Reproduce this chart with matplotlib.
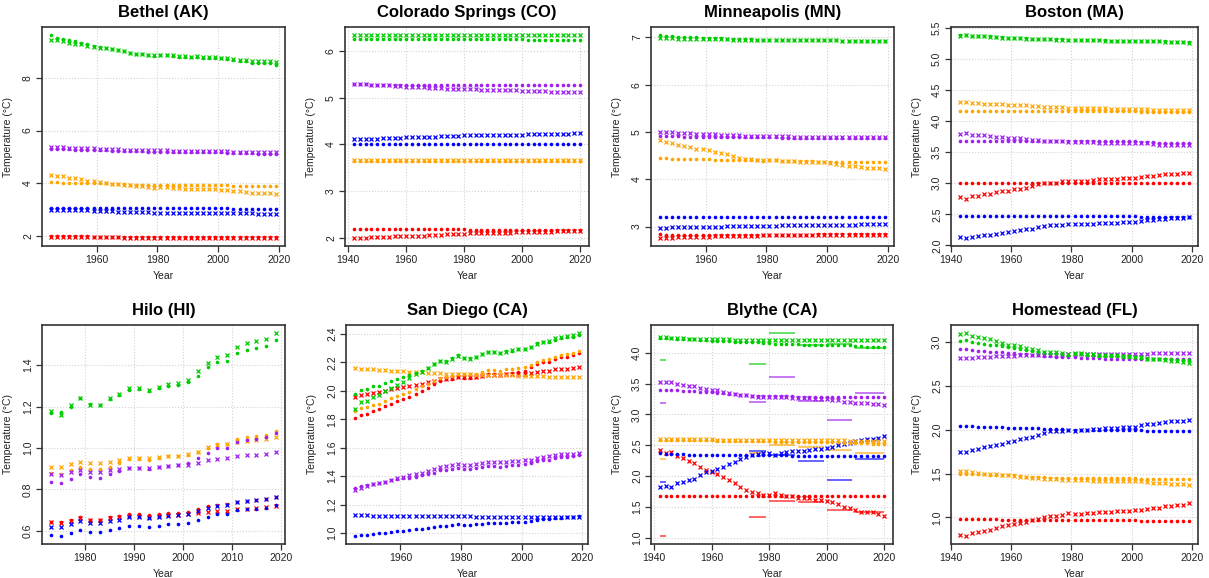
import matplotlib
matplotlib.use('Agg')
import matplotlib.pyplot as plt
from matplotlib.ticker import FixedLocator, FormatStrFormatter

plt.rcParams['font.family'] = ['Liberation Sans', 'DejaVu Sans']

RED = '#FF0000'
BLUE = '#0000FF'
ORANGE = '#FFA500'
PURPLE = '#A020F0'
GREEN = '#00CD00'

W, H = 1209, 578

# ---------------- Bethel (AK) ----------------
bethel_years = list(range(1945, 2020, 2))
bethel_red_dot = [2.00, 2.00, 2.00, 2.00, 1.99, 1.99, 1.99, 1.98, 1.98, 1.98,
                  1.98, 1.98, 1.97, 1.97, 1.97, 1.97, 1.97, 1.96, 1.96, 1.96,
                  1.96, 1.96, 1.96, 1.96, 1.96, 1.96, 1.96, 1.96, 1.96, 1.96,
                  1.96, 1.95, 1.95, 1.95, 1.95, 1.95, 1.95, 1.95]
bethel_red_x = [1.96, 1.96, 1.96, 1.96, 1.96, 1.95, 1.95, 1.95, 1.95, 1.95,
                1.95, 1.95, 1.94, 1.94, 1.94, 1.94, 1.94, 1.94, 1.94, 1.94,
                1.94, 1.94, 1.94, 1.94, 1.94, 1.94, 1.94, 1.94, 1.94, 1.94,
                1.93, 1.93, 1.93, 1.93, 1.93, 1.93, 1.93, 1.93]
bethel_blue_dot = [3.07, 3.07, 3.07, 3.07, 3.07, 3.06, 3.06, 3.06, 3.06, 3.06,
                   3.06, 3.06, 3.06, 3.06, 3.06, 3.05, 3.05, 3.05, 3.05, 3.05,
                   3.05, 3.05, 3.05, 3.05, 3.05, 3.05, 3.05, 3.05, 3.05, 3.05,
                   3.04, 3.04, 3.04, 3.04, 3.04, 3.04, 3.04, 3.04]
bethel_blue_x = [3.00, 3.00, 3.00, 2.99, 2.99, 2.98, 2.97, 2.96, 2.95, 2.95,
                 2.94, 2.93, 2.92, 2.91, 2.90, 2.90, 2.90, 2.89, 2.89, 2.89,
                 2.89, 2.88, 2.88, 2.88, 2.88, 2.88, 2.87, 2.87, 2.87, 2.87,
                 2.86, 2.86, 2.86, 2.86, 2.85, 2.85, 2.85, 2.85]
bethel_orange_dot = [4.04, 4.04, 4.03, 4.03, 4.03, 4.02, 4.01, 4.00, 4.00, 4.00,
                     3.99, 3.98, 3.96, 3.95, 3.93, 3.93, 3.93, 3.92, 3.93, 3.93,
                     3.93, 3.92, 3.92, 3.92, 3.92, 3.92, 3.92, 3.92, 3.92, 3.92,
                     3.91, 3.91, 3.91, 3.91, 3.91, 3.91, 3.91, 3.90]
bethel_orange_x = [4.33, 4.28, 4.27, 4.22, 4.20, 4.15, 4.10, 4.07, 4.05, 4.02,
                   3.99, 3.97, 3.94, 3.92, 3.88, 3.88, 3.86, 3.84, 3.86, 3.86,
                   3.84, 3.82, 3.80, 3.79, 3.79, 3.78, 3.77, 3.77, 3.76, 3.73,
                   3.70, 3.69, 3.68, 3.65, 3.64, 3.63, 3.63, 3.60]
bethel_purple_dot = [5.31, 5.30, 5.30, 5.29, 5.28, 5.28, 5.27, 5.26, 5.26, 5.25,
                     5.24, 5.24, 5.23, 5.22, 5.21, 5.21, 5.20, 5.20, 5.20, 5.20,
                     5.19, 5.19, 5.18, 5.18, 5.18, 5.17, 5.17, 5.17, 5.17, 5.16,
                     5.15, 5.15, 5.14, 5.14, 5.13, 5.13, 5.13, 5.12]
bethel_purple_x = [5.37, 5.36, 5.36, 5.35, 5.34, 5.34, 5.33, 5.32, 5.31, 5.30,
                   5.30, 5.29, 5.28, 5.27, 5.27, 5.26, 5.26, 5.25, 5.25, 5.25,
                   5.24, 5.24, 5.23, 5.23, 5.23, 5.22, 5.22, 5.22, 5.22, 5.21,
                   5.20, 5.20, 5.19, 5.19, 5.18, 5.18, 5.18, 5.17]
bethel_green_dot = [9.62, 9.50, 9.48, 9.42, 9.38, 9.32, 9.27, 9.22, 9.18, 9.13,
                    9.08, 9.05, 9.00, 8.96, 8.90, 8.90, 8.88, 8.83, 8.86, 8.86,
                    8.83, 8.80, 8.78, 8.78, 8.79, 8.77, 8.75, 8.75, 8.74, 8.70,
                    8.66, 8.64, 8.63, 8.58, 8.56, 8.55, 8.55, 8.50]
bethel_green_x = [9.45, 9.42, 9.38, 9.33, 9.30, 9.27, 9.22, 9.18, 9.15, 9.12,
                  9.08, 9.05, 9.00, 8.95, 8.92, 8.90, 8.88, 8.85, 8.86, 8.87,
                  8.85, 8.83, 8.82, 8.80, 8.81, 8.80, 8.79, 8.78, 8.77, 8.74,
                  8.70, 8.68, 8.68, 8.65, 8.64, 8.63, 8.62, 8.60]

# ---------------- Colorado Springs (CO) ----------------
colo_years = list(range(1942, 2021, 2))
colo_red_dot = [2.18, 2.18, 2.18, 2.18, 2.18, 2.18, 2.18, 2.18, 2.18, 2.18,
                2.18, 2.18, 2.18, 2.18, 2.18, 2.18, 2.18, 2.18, 2.18, 2.18,
                2.17, 2.17, 2.17, 2.17, 2.17, 2.17, 2.17, 2.17, 2.17, 2.17,
                2.17, 2.17, 2.17, 2.17, 2.17, 2.16, 2.16, 2.16, 2.16, 2.16]
colo_red_x = [2.00, 2.00, 2.00, 2.01, 2.01, 2.02, 2.02, 2.03, 2.03, 2.04,
              2.04, 2.05, 2.05, 2.06, 2.07, 2.07, 2.08, 2.08, 2.09, 2.09,
              2.10, 2.10, 2.10, 2.10, 2.11, 2.11, 2.11, 2.11, 2.12, 2.12,
              2.12, 2.12, 2.13, 2.13, 2.13, 2.14, 2.14, 2.14, 2.14, 2.15]
colo_blue_dot = [4.00, 4.00, 4.00, 4.00, 4.00, 4.00, 4.00, 4.00, 4.00, 4.00,
                 4.00, 4.00, 4.00, 4.00, 4.00, 4.00, 4.00, 4.00, 4.00, 4.00,
                 4.00, 4.00, 4.00, 4.00, 4.00, 4.00, 4.00, 4.00, 4.00, 4.00,
                 4.00, 4.00, 4.00, 4.00, 4.00, 4.00, 4.00, 4.00, 4.00, 4.00]
colo_blue_x = [4.11, 4.11, 4.11, 4.12, 4.12, 4.13, 4.13, 4.14, 4.14, 4.15,
               4.15, 4.16, 4.16, 4.17, 4.17, 4.18, 4.18, 4.19, 4.19, 4.20,
               4.20, 4.20, 4.20, 4.20, 4.21, 4.21, 4.21, 4.21, 4.21, 4.21,
               4.22, 4.22, 4.22, 4.22, 4.23, 4.23, 4.23, 4.23, 4.24, 4.24]
colo_orange_dot = [3.64, 3.64, 3.64, 3.64, 3.64, 3.64, 3.64, 3.64, 3.64, 3.64,
                   3.64, 3.64, 3.64, 3.64, 3.64, 3.64, 3.64, 3.64, 3.64, 3.64,
                   3.64, 3.64, 3.64, 3.64, 3.64, 3.64, 3.64, 3.64, 3.64, 3.64,
                   3.64, 3.64, 3.64, 3.64, 3.64, 3.64, 3.64, 3.64, 3.64, 3.64]
colo_orange_x = [3.66, 3.66, 3.66, 3.66, 3.66, 3.66, 3.66, 3.66, 3.66, 3.66,
                 3.66, 3.66, 3.66, 3.66, 3.66, 3.66, 3.66, 3.66, 3.66, 3.66,
                 3.66, 3.66, 3.66, 3.66, 3.66, 3.66, 3.66, 3.66, 3.66, 3.66,
                 3.66, 3.66, 3.66, 3.66, 3.66, 3.66, 3.66, 3.66, 3.66, 3.66]
colo_purple_dot = [5.29, 5.29, 5.29, 5.28, 5.28, 5.28, 5.28, 5.28, 5.28, 5.28,
                   5.27, 5.27, 5.27, 5.27, 5.27, 5.27, 5.27, 5.27, 5.27, 5.27,
                   5.27, 5.27, 5.27, 5.27, 5.27, 5.27, 5.27, 5.27, 5.27, 5.27,
                   5.27, 5.27, 5.27, 5.27, 5.27, 5.27, 5.27, 5.27, 5.27, 5.27]
colo_purple_x = [5.30, 5.29, 5.29, 5.28, 5.28, 5.27, 5.27, 5.26, 5.25, 5.24,
                 5.24, 5.23, 5.22, 5.21, 5.20, 5.20, 5.19, 5.19, 5.18, 5.18,
                 5.18, 5.18, 5.17, 5.17, 5.17, 5.17, 5.16, 5.16, 5.16, 5.15,
                 5.15, 5.15, 5.14, 5.14, 5.13, 5.13, 5.13, 5.13, 5.12, 5.12]
colo_green_dot = [6.26, 6.26, 6.26, 6.26, 6.26, 6.26, 6.26, 6.26, 6.26, 6.26,
                  6.25, 6.25, 6.25, 6.25, 6.25, 6.25, 6.25, 6.25, 6.25, 6.25,
                  6.25, 6.25, 6.25, 6.25, 6.25, 6.25, 6.25, 6.25, 6.25, 6.25,
                  6.24, 6.24, 6.24, 6.24, 6.24, 6.24, 6.24, 6.24, 6.24, 6.24]
colo_green_x = [6.34, 6.34, 6.34, 6.34, 6.34, 6.34, 6.34, 6.34, 6.34, 6.34,
                6.34, 6.34, 6.34, 6.34, 6.34, 6.34, 6.34, 6.34, 6.34, 6.34,
                6.34, 6.34, 6.34, 6.34, 6.34, 6.34, 6.34, 6.34, 6.34, 6.34,
                6.34, 6.34, 6.34, 6.34, 6.34, 6.34, 6.34, 6.34, 6.34, 6.34]

# ---------------- Minneapolis (MN) ----------------
minn_years = list(range(1945, 2020, 2))
minn_red_dot = [2.84, 2.83, 2.83, 2.83, 2.83, 2.83, 2.83, 2.83, 2.83, 2.83,
                2.83, 2.83, 2.83, 2.83, 2.83, 2.83, 2.83, 2.83, 2.83, 2.83,
                2.83, 2.83, 2.83, 2.83, 2.83, 2.83, 2.84, 2.84, 2.84, 2.84,
                2.84, 2.84, 2.84, 2.84, 2.84, 2.84, 2.84, 2.84]
minn_red_x = [2.76, 2.76, 2.76, 2.77, 2.77, 2.77, 2.78, 2.78, 2.78, 2.79,
              2.79, 2.80, 2.80, 2.81, 2.81, 2.81, 2.81, 2.82, 2.82, 2.82,
              2.82, 2.82, 2.82, 2.82, 2.82, 2.82, 2.82, 2.82, 2.82, 2.82,
              2.83, 2.83, 2.83, 2.83, 2.83, 2.83, 2.83, 2.83]
minn_blue_dot = [3.21, 3.21, 3.21, 3.21, 3.21, 3.21, 3.21, 3.21, 3.21, 3.21,
                 3.21, 3.21, 3.21, 3.21, 3.21, 3.21, 3.21, 3.21, 3.21, 3.21,
                 3.20, 3.20, 3.20, 3.20, 3.20, 3.20, 3.20, 3.20, 3.20, 3.20,
                 3.20, 3.20, 3.20, 3.20, 3.20, 3.20, 3.20, 3.20]
minn_blue_x = [2.97, 2.97, 2.98, 2.98, 2.99, 2.99, 2.99, 3.00, 3.00, 3.00,
               3.00, 3.01, 3.01, 3.01, 3.02, 3.02, 3.02, 3.02, 3.02, 3.02,
               3.03, 3.03, 3.03, 3.03, 3.03, 3.03, 3.03, 3.03, 3.03, 3.03,
               3.04, 3.04, 3.04, 3.05, 3.05, 3.05, 3.05, 3.05]
minn_orange_dot = [4.44, 4.44, 4.43, 4.43, 4.43, 4.42, 4.42, 4.42, 4.42, 4.41,
                   4.41, 4.41, 4.41, 4.40, 4.40, 4.40, 4.40, 4.39, 4.40, 4.40,
                   4.39, 4.38, 4.38, 4.38, 4.38, 4.38, 4.37, 4.37, 4.37, 4.37,
                   4.37, 4.37, 4.36, 4.36, 4.36, 4.36, 4.36, 4.36]
minn_orange_x = [4.83, 4.78, 4.76, 4.73, 4.71, 4.68, 4.65, 4.63, 4.61, 4.58,
                 4.56, 4.53, 4.50, 4.46, 4.43, 4.43, 4.41, 4.40, 4.40, 4.40,
                 4.39, 4.38, 4.38, 4.37, 4.37, 4.37, 4.36, 4.36, 4.35, 4.33,
                 4.30, 4.28, 4.28, 4.25, 4.24, 4.23, 4.23, 4.21]
minn_purple_dot = [4.91, 4.91, 4.91, 4.91, 4.90, 4.90, 4.90, 4.90, 4.90, 4.90,
                   4.89, 4.89, 4.89, 4.89, 4.89, 4.89, 4.89, 4.89, 4.89, 4.89,
                   4.88, 4.88, 4.88, 4.88, 4.88, 4.88, 4.88, 4.88, 4.88, 4.88,
                   4.87, 4.87, 4.87, 4.87, 4.87, 4.87, 4.87, 4.87]
minn_purple_x = [5.00, 4.99, 4.99, 4.98, 4.97, 4.97, 4.96, 4.96, 4.95, 4.95,
                 4.94, 4.94, 4.93, 4.93, 4.92, 4.92, 4.92, 4.91, 4.91, 4.91,
                 4.91, 4.91, 4.90, 4.90, 4.90, 4.90, 4.90, 4.90, 4.90, 4.90,
                 4.89, 4.89, 4.89, 4.89, 4.89, 4.89, 4.89, 4.89]
minn_green_dot = [7.05, 7.04, 7.03, 7.02, 7.01, 7.00, 7.00, 6.99, 6.99, 6.98,
                  6.98, 6.97, 6.97, 6.96, 6.96, 6.96, 6.95, 6.95, 6.95, 6.95,
                  6.95, 6.95, 6.95, 6.95, 6.94, 6.94, 6.94, 6.94, 6.94, 6.94,
                  6.93, 6.93, 6.93, 6.93, 6.93, 6.93, 6.93, 6.93]
minn_green_x = [6.98, 6.98, 6.98, 6.97, 6.97, 6.97, 6.97, 6.96, 6.96, 6.96,
                6.96, 6.96, 6.95, 6.95, 6.95, 6.95, 6.95, 6.95, 6.95, 6.95,
                6.94, 6.94, 6.94, 6.94, 6.94, 6.94, 6.94, 6.94, 6.94, 6.94,
                6.93, 6.93, 6.93, 6.92, 6.92, 6.92, 6.92, 6.92]

# ---------------- Boston (MA) ----------------
bos_years = list(range(1943, 2020, 2))
bos_red_dot = [3.00, 3.00, 3.00, 3.00, 3.00, 3.00, 3.00, 3.00, 3.00, 3.00,
               3.00, 3.00, 3.00, 3.00, 3.00, 3.00, 3.00, 3.00, 3.00, 3.00,
               3.00, 3.00, 3.00, 3.00, 3.00, 3.00, 3.00, 3.00, 3.00, 3.00,
               3.00, 3.00, 3.00, 3.00, 3.00, 3.00, 3.00, 3.00, 3.00]
bos_red_x = [2.77, 2.75, 2.79, 2.80, 2.82, 2.83, 2.85, 2.87, 2.88, 2.90,
             2.91, 2.93, 2.95, 2.98, 3.00, 3.01, 3.01, 3.03, 3.04, 3.03,
             3.03, 3.04, 3.05, 3.06, 3.06, 3.06, 3.07, 3.08, 3.08, 3.08,
             3.10, 3.11, 3.12, 3.13, 3.14, 3.15, 3.15, 3.16, 3.17]
bos_blue_dot = [2.47, 2.47, 2.47, 2.47, 2.47, 2.47, 2.47, 2.47, 2.47, 2.47,
                2.47, 2.47, 2.47, 2.47, 2.47, 2.47, 2.47, 2.47, 2.47, 2.47,
                2.47, 2.47, 2.47, 2.47, 2.47, 2.47, 2.47, 2.47, 2.47, 2.47,
                2.46, 2.46, 2.46, 2.46, 2.46, 2.46, 2.46, 2.46, 2.46]
bos_blue_x = [2.13, 2.12, 2.14, 2.15, 2.16, 2.17, 2.19, 2.20, 2.22, 2.23,
              2.24, 2.26, 2.27, 2.29, 2.31, 2.32, 2.33, 2.33, 2.34, 2.34,
              2.34, 2.35, 2.35, 2.36, 2.36, 2.36, 2.36, 2.37, 2.37, 2.38,
              2.39, 2.40, 2.41, 2.42, 2.43, 2.44, 2.44, 2.44, 2.45]
bos_orange_dot = [4.16, 4.16, 4.16, 4.16, 4.16, 4.16, 4.16, 4.16, 4.16, 4.16,
                  4.16, 4.16, 4.16, 4.16, 4.16, 4.16, 4.16, 4.16, 4.16, 4.16,
                  4.16, 4.16, 4.16, 4.16, 4.16, 4.16, 4.16, 4.16, 4.16, 4.16,
                  4.15, 4.15, 4.15, 4.15, 4.15, 4.15, 4.15, 4.15, 4.15]
bos_orange_x = [4.30, 4.30, 4.29, 4.29, 4.28, 4.28, 4.27, 4.27, 4.26, 4.26,
                4.25, 4.25, 4.24, 4.24, 4.23, 4.22, 4.22, 4.22, 4.21, 4.21,
                4.21, 4.21, 4.21, 4.21, 4.21, 4.20, 4.20, 4.20, 4.20, 4.20,
                4.19, 4.19, 4.18, 4.18, 4.18, 4.17, 4.17, 4.17, 4.17]
bos_purple_dot = [3.68, 3.68, 3.68, 3.68, 3.68, 3.68, 3.68, 3.68, 3.68, 3.68,
                  3.68, 3.68, 3.68, 3.68, 3.68, 3.68, 3.68, 3.68, 3.68, 3.68,
                  3.67, 3.67, 3.67, 3.67, 3.67, 3.67, 3.67, 3.67, 3.67, 3.67,
                  3.66, 3.66, 3.66, 3.65, 3.65, 3.65, 3.65, 3.65, 3.65]
bos_purple_x = [3.79, 3.80, 3.78, 3.77, 3.77, 3.76, 3.75, 3.74, 3.73, 3.73,
                3.72, 3.71, 3.70, 3.69, 3.68, 3.68, 3.67, 3.67, 3.66, 3.66,
                3.66, 3.66, 3.66, 3.65, 3.65, 3.65, 3.65, 3.65, 3.65, 3.65,
                3.64, 3.64, 3.63, 3.62, 3.62, 3.62, 3.61, 3.61, 3.61]
bos_green_dot = [5.38, 5.38, 5.37, 5.37, 5.36, 5.36, 5.35, 5.35, 5.34, 5.34,
                 5.33, 5.33, 5.32, 5.32, 5.31, 5.31, 5.31, 5.31, 5.30, 5.30,
                 5.30, 5.30, 5.30, 5.30, 5.30, 5.29, 5.29, 5.29, 5.29, 5.29,
                 5.29, 5.28, 5.28, 5.28, 5.28, 5.27, 5.27, 5.27, 5.27]
bos_green_x = [5.37, 5.38, 5.37, 5.36, 5.36, 5.35, 5.35, 5.34, 5.34, 5.33,
               5.33, 5.32, 5.32, 5.31, 5.31, 5.31, 5.30, 5.30, 5.30, 5.30,
               5.30, 5.30, 5.30, 5.30, 5.29, 5.29, 5.29, 5.29, 5.29, 5.29,
               5.28, 5.28, 5.28, 5.28, 5.27, 5.27, 5.27, 5.27, 5.26]

# ---------------- Hilo (HI) ----------------
hilo_years = list(range(1973, 2020, 2))
hilo_red_dot = [0.645, 0.645, 0.655, 0.665, 0.655, 0.655, 0.665, 0.672, 0.680, 0.680,
                0.677, 0.682, 0.687, 0.688, 0.693, 0.705, 0.718, 0.727, 0.728, 0.740,
                0.745, 0.748, 0.752, 0.762]
hilo_red_x = [0.642, 0.640, 0.650, 0.660, 0.652, 0.652, 0.660, 0.665, 0.670, 0.670,
              0.668, 0.672, 0.675, 0.677, 0.680, 0.685, 0.690, 0.697, 0.698, 0.705,
              0.708, 0.710, 0.714, 0.720]
hilo_blue_dot = [0.578, 0.576, 0.590, 0.604, 0.595, 0.595, 0.604, 0.612, 0.622, 0.623,
                 0.620, 0.626, 0.632, 0.633, 0.640, 0.653, 0.668, 0.680, 0.683, 0.700,
                 0.705, 0.708, 0.712, 0.727]
hilo_blue_x = [0.620, 0.618, 0.635, 0.648, 0.638, 0.637, 0.648, 0.655, 0.665, 0.665,
               0.662, 0.668, 0.672, 0.675, 0.680, 0.695, 0.710, 0.722, 0.725, 0.740,
               0.745, 0.748, 0.752, 0.762]
hilo_orange_dot = [0.880, 0.875, 0.895, 0.910, 0.900, 0.900, 0.910, 0.930, 0.945, 0.945,
                   0.940, 0.950, 0.960, 0.960, 0.965, 0.980, 1.000, 1.020, 1.020, 1.045,
                   1.055, 1.060, 1.065, 1.080]
hilo_orange_x = [0.910, 0.908, 0.922, 0.934, 0.926, 0.926, 0.934, 0.942, 0.952, 0.952,
                 0.950, 0.957, 0.963, 0.964, 0.970, 0.983, 1.003, 1.016, 1.020, 1.027,
                 1.035, 1.040, 1.045, 1.053]
hilo_purple_dot = [0.835, 0.830, 0.853, 0.875, 0.858, 0.856, 0.875, 0.888, 0.905, 0.905,
                   0.900, 0.908, 0.915, 0.918, 0.928, 0.950, 0.978, 1.000, 1.000, 1.030,
                   1.040, 1.045, 1.055, 1.075]
hilo_purple_x = [0.875, 0.872, 0.885, 0.892, 0.886, 0.886, 0.892, 0.900, 0.905, 0.905,
                 0.902, 0.910, 0.915, 0.918, 0.920, 0.930, 0.940, 0.948, 0.950, 0.963,
                 0.967, 0.968, 0.972, 0.980]
hilo_green_dot = [1.170, 1.175, 1.200, 1.240, 1.215, 1.210, 1.235, 1.255, 1.280, 1.285,
                  1.275, 1.290, 1.300, 1.305, 1.320, 1.350, 1.390, 1.415, 1.420, 1.460,
                  1.475, 1.485, 1.495, 1.523]
hilo_green_x = [1.180, 1.160, 1.210, 1.240, 1.210, 1.210, 1.240, 1.260, 1.290, 1.290,
                1.280, 1.295, 1.310, 1.315, 1.330, 1.370, 1.410, 1.440, 1.447, 1.490,
                1.505, 1.515, 1.525, 1.555]

# ---------------- San Diego (CA) ----------------
sd_years = list(range(1945, 2020, 2))
sd_red_dot = [1.805, 1.830, 1.840, 1.860, 1.870, 1.890, 1.910, 1.925, 1.940, 1.955,
              1.975, 1.995, 2.020, 2.045, 2.070, 2.080, 2.085, 2.100, 2.090, 2.090,
              2.100, 2.105, 2.115, 2.115, 2.110, 2.120, 2.125, 2.130, 2.140, 2.165,
              2.190, 2.200, 2.205, 2.225, 2.235, 2.240, 2.250, 2.265]
sd_red_x = [1.955, 1.970, 1.975, 1.985, 1.990, 2.000, 2.010, 2.020, 2.025, 2.035,
            2.040, 2.050, 2.060, 2.070, 2.080, 2.085, 2.090, 2.100, 2.095, 2.095,
            2.100, 2.105, 2.110, 2.110, 2.110, 2.115, 2.115, 2.120, 2.120, 2.125,
            2.130, 2.140, 2.140, 2.150, 2.155, 2.155, 2.158, 2.165]
sd_blue_dot = [0.980, 0.985, 0.988, 0.993, 0.997, 1.002, 1.008, 1.012, 1.015, 1.020,
               1.025, 1.030, 1.038, 1.045, 1.052, 1.053, 1.057, 1.062, 1.058, 1.058,
               1.062, 1.065, 1.070, 1.070, 1.068, 1.072, 1.075, 1.076, 1.078, 1.085,
               1.095, 1.100, 1.100, 1.107, 1.108, 1.110, 1.112, 1.118]
sd_blue_x = [1.125, 1.124, 1.124, 1.123, 1.123, 1.122, 1.122, 1.121, 1.121, 1.120,
             1.120, 1.120, 1.119, 1.119, 1.118, 1.118, 1.118, 1.117, 1.117, 1.117,
             1.116, 1.116, 1.116, 1.115, 1.115, 1.115, 1.115, 1.114, 1.114, 1.114,
             1.113, 1.113, 1.113, 1.112, 1.112, 1.112, 1.112, 1.112]
sd_orange_dot = [1.855, 1.880, 1.885, 1.900, 1.910, 1.930, 1.950, 1.960, 1.975, 1.990,
                 2.010, 2.030, 2.050, 2.070, 2.090, 2.095, 2.105, 2.120, 2.115, 2.115,
                 2.120, 2.130, 2.145, 2.145, 2.140, 2.150, 2.155, 2.160, 2.165, 2.180,
                 2.205, 2.215, 2.220, 2.240, 2.250, 2.255, 2.265, 2.280]
sd_orange_x = [2.160, 2.155, 2.152, 2.150, 2.148, 2.145, 2.142, 2.140, 2.138, 2.135,
               2.133, 2.130, 2.128, 2.125, 2.123, 2.120, 2.118, 2.117, 2.115, 2.115,
               2.113, 2.113, 2.112, 2.112, 2.110, 2.110, 2.108, 2.107, 2.106, 2.105,
               2.103, 2.102, 2.100, 2.100, 2.098, 2.097, 2.096, 2.094]
sd_purple_dot = [1.320, 1.330, 1.335, 1.345, 1.350, 1.360, 1.370, 1.380, 1.385, 1.390,
                 1.395, 1.405, 1.415, 1.425, 1.440, 1.442, 1.450, 1.458, 1.452, 1.452,
                 1.457, 1.462, 1.470, 1.470, 1.467, 1.472, 1.477, 1.478, 1.482, 1.492,
                 1.505, 1.512, 1.515, 1.528, 1.532, 1.535, 1.540, 1.550]
sd_purple_x = [1.300, 1.320, 1.330, 1.345, 1.350, 1.360, 1.375, 1.390, 1.395, 1.405,
               1.415, 1.425, 1.435, 1.450, 1.465, 1.468, 1.475, 1.485, 1.480, 1.480,
               1.487, 1.490, 1.500, 1.500, 1.497, 1.502, 1.505, 1.507, 1.510, 1.515,
               1.525, 1.535, 1.538, 1.548, 1.552, 1.555, 1.558, 1.565]
sd_green_dot = [1.980, 2.008, 2.013, 2.030, 2.035, 2.055, 2.070, 2.080, 2.100, 2.110,
                2.125, 2.140, 2.160, 2.185, 2.210, 2.210, 2.230, 2.250, 2.230, 2.230,
                2.240, 2.260, 2.270, 2.270, 2.265, 2.280, 2.280, 2.290, 2.295, 2.310,
                2.335, 2.340, 2.340, 2.360, 2.370, 2.375, 2.380, 2.390]
sd_green_x = [1.875, 1.920, 1.930, 1.955, 1.970, 2.000, 2.020, 2.040, 2.060, 2.090,
              2.115, 2.135, 2.160, 2.185, 2.210, 2.205, 2.225, 2.245, 2.230, 2.225,
              2.235, 2.255, 2.270, 2.270, 2.265, 2.275, 2.285, 2.290, 2.295, 2.310,
              2.330, 2.345, 2.350, 2.370, 2.380, 2.385, 2.390, 2.405]

# ---------------- Blythe (CA) ----------------
bly_years = list(range(1942, 2021, 2))
bly_red_dot = [1.68, 1.68, 1.68, 1.68, 1.68, 1.68, 1.68, 1.68, 1.68, 1.68,
               1.68, 1.68, 1.68, 1.68, 1.68, 1.68, 1.68, 1.68, 1.68, 1.68,
               1.68, 1.68, 1.68, 1.68, 1.68, 1.68, 1.68, 1.68, 1.68, 1.68,
               1.67, 1.67, 1.67, 1.67, 1.67, 1.67, 1.67, 1.67, 1.67, 1.67]
bly_red_x = [2.42, 2.38, 2.39, 2.32, 2.29, 2.25, 2.22, 2.14, 2.10, 2.07,
             2.03, 1.98, 1.94, 1.89, 1.83, 1.78, 1.75, 1.72, 1.70, 1.69,
             1.72, 1.70, 1.68, 1.67, 1.65, 1.65, 1.64, 1.62, 1.61, 1.60,
             1.58, 1.54, 1.50, 1.48, 1.45, 1.42, 1.41, 1.41, 1.39, 1.36]
bly_blue_dot = [2.37, 2.36, 2.36, 2.36, 2.36, 2.35, 2.35, 2.35, 2.35, 2.35,
                2.35, 2.35, 2.35, 2.35, 2.34, 2.34, 2.34, 2.34, 2.34, 2.34,
                2.34, 2.34, 2.34, 2.33, 2.33, 2.33, 2.33, 2.33, 2.33, 2.33,
                2.33, 2.33, 2.33, 2.33, 2.32, 2.32, 2.32, 2.32, 2.32, 2.32]
bly_blue_x = [1.82, 1.84, 1.83, 1.88, 1.90, 1.93, 1.96, 2.02, 2.06, 2.09,
              2.11, 2.15, 2.19, 2.23, 2.28, 2.31, 2.34, 2.36, 2.38, 2.38,
              2.35, 2.37, 2.39, 2.41, 2.41, 2.41, 2.42, 2.44, 2.44, 2.46,
              2.47, 2.51, 2.52, 2.54, 2.57, 2.59, 2.60, 2.61, 2.62, 2.65]
bly_orange_dot = [2.58, 2.58, 2.58, 2.58, 2.58, 2.58, 2.58, 2.58, 2.58, 2.58,
                  2.57, 2.57, 2.57, 2.57, 2.57, 2.57, 2.57, 2.57, 2.57, 2.57,
                  2.56, 2.56, 2.56, 2.56, 2.56, 2.56, 2.56, 2.56, 2.56, 2.56,
                  2.55, 2.55, 2.54, 2.54, 2.53, 2.53, 2.53, 2.52, 2.52, 2.52]
bly_orange_x = [2.61, 2.61, 2.61, 2.61, 2.60, 2.60, 2.60, 2.60, 2.60, 2.60,
                2.59, 2.59, 2.59, 2.59, 2.59, 2.59, 2.59, 2.59, 2.59, 2.59,
                2.58, 2.58, 2.58, 2.58, 2.58, 2.58, 2.58, 2.58, 2.58, 2.58,
                2.58, 2.58, 2.58, 2.57, 2.57, 2.57, 2.57, 2.57, 2.57, 2.57]
bly_purple_dot = [3.40, 3.40, 3.39, 3.39, 3.38, 3.38, 3.38, 3.37, 3.37, 3.36,
                  3.35, 3.35, 3.34, 3.33, 3.32, 3.31, 3.30, 3.30, 3.30, 3.30,
                  3.30, 3.30, 3.30, 3.30, 3.29, 3.29, 3.29, 3.29, 3.29, 3.29,
                  3.29, 3.29, 3.28, 3.28, 3.28, 3.28, 3.28, 3.28, 3.28, 3.28]
bly_purple_x = [3.53, 3.52, 3.52, 3.50, 3.48, 3.47, 3.46, 3.43, 3.41, 3.40,
                3.39, 3.37, 3.35, 3.34, 3.32, 3.31, 3.30, 3.29, 3.28, 3.29,
                3.29, 3.29, 3.28, 3.27, 3.27, 3.26, 3.26, 3.25, 3.25, 3.25,
                3.24, 3.23, 3.21, 3.20, 3.19, 3.18, 3.18, 3.17, 3.17, 3.16]
bly_green_dot = [4.24, 4.24, 4.24, 4.23, 4.23, 4.23, 4.22, 4.21, 4.21, 4.20,
                 4.20, 4.19, 4.19, 4.18, 4.18, 4.17, 4.17, 4.17, 4.16, 4.16,
                 4.15, 4.15, 4.15, 4.14, 4.14, 4.13, 4.13, 4.13, 4.13, 4.13,
                 4.13, 4.13, 4.13, 4.12, 4.11, 4.11, 4.10, 4.10, 4.10, 4.10]
bly_green_x = [4.25, 4.25, 4.24, 4.24, 4.24, 4.23, 4.23, 4.23, 4.22, 4.22,
               4.22, 4.22, 4.22, 4.21, 4.21, 4.21, 4.21, 4.21, 4.21, 4.21,
               4.21, 4.21, 4.21, 4.21, 4.21, 4.21, 4.21, 4.21, 4.21, 4.21,
               4.21, 4.21, 4.21, 4.21, 4.21, 4.21, 4.21, 4.21, 4.21, 4.21]
# decade means, drawn as short horizontal segments
bly_seg_start = [1942, 1973, 1980, 1990, 2000, 2010]
bly_seg_end = [1944, 1979, 1989, 1999, 2009, 2020]
bly_seg_red = [1.03, 1.34, 1.59, 1.58, 1.45, 1.41]
bly_seg_blue = [1.90, 2.40, 2.35, 2.24, 1.93, 2.28]
bly_seg_orange = [2.28, 2.37, 2.50, 2.47, 2.43, 2.38]
bly_seg_purple = [3.19, 3.20, 3.60, 3.22, 2.91, 3.35]
bly_seg_green = [3.88, 3.82, 4.32, 4.13, 4.15, 4.08]

# ---------------- Homestead (FL) ----------------
home_years = list(range(1943, 2020, 2))
home_red_dot = [0.98, 0.98, 0.98, 0.98, 0.98, 0.98, 0.98, 0.97, 0.97, 0.97,
                0.97, 0.97, 0.97, 0.97, 0.97, 0.97, 0.97, 0.97, 0.97, 0.97,
                0.97, 0.97, 0.97, 0.97, 0.97, 0.97, 0.97, 0.97, 0.97, 0.97,
                0.96, 0.96, 0.96, 0.96, 0.96, 0.96, 0.96, 0.96, 0.96]
home_red_x = [0.80, 0.79, 0.82, 0.83, 0.85, 0.86, 0.88, 0.90, 0.91, 0.92,
              0.94, 0.95, 0.97, 0.98, 1.00, 1.02, 1.02, 1.03, 1.05, 1.04,
              1.04, 1.05, 1.05, 1.06, 1.06, 1.06, 1.07, 1.07, 1.07, 1.08,
              1.09, 1.10, 1.11, 1.11, 1.13, 1.13, 1.14, 1.14, 1.16]
home_blue_dot = [2.04, 2.04, 2.04, 2.03, 2.03, 2.03, 2.03, 2.03, 2.02, 2.02,
                 2.02, 2.02, 2.02, 2.02, 2.01, 2.01, 2.01, 2.01, 2.00, 2.00,
                 2.00, 2.00, 2.00, 2.00, 2.00, 2.00, 2.00, 2.00, 2.00, 2.00,
                 2.00, 1.99, 1.99, 1.99, 1.99, 1.99, 1.99, 1.99, 1.99]
home_blue_x = [1.75, 1.74, 1.77, 1.78, 1.80, 1.81, 1.83, 1.84, 1.86, 1.87,
               1.89, 1.90, 1.92, 1.94, 1.96, 1.98, 1.98, 1.99, 2.00, 1.99,
               2.00, 2.00, 2.01, 2.01, 2.02, 2.02, 2.02, 2.03, 2.03, 2.03,
               2.05, 2.06, 2.07, 2.08, 2.09, 2.10, 2.10, 2.10, 2.11]
home_orange_dot = [1.49, 1.49, 1.49, 1.49, 1.49, 1.48, 1.48, 1.48, 1.48, 1.48,
                   1.47, 1.46, 1.46, 1.46, 1.46, 1.45, 1.45, 1.45, 1.45, 1.45,
                   1.45, 1.45, 1.45, 1.45, 1.45, 1.45, 1.45, 1.45, 1.45, 1.45,
                   1.44, 1.44, 1.44, 1.44, 1.44, 1.44, 1.44, 1.44, 1.44]
home_orange_x = [1.53, 1.53, 1.52, 1.51, 1.50, 1.50, 1.49, 1.48, 1.48, 1.47,
                 1.46, 1.46, 1.45, 1.45, 1.44, 1.44, 1.44, 1.43, 1.43, 1.43,
                 1.43, 1.43, 1.42, 1.42, 1.42, 1.42, 1.42, 1.42, 1.41, 1.41,
                 1.41, 1.40, 1.39, 1.39, 1.39, 1.38, 1.38, 1.38, 1.37]
home_purple_dot = [2.92, 2.92, 2.91, 2.90, 2.90, 2.89, 2.89, 2.88, 2.87, 2.87,
                   2.86, 2.86, 2.85, 2.85, 2.84, 2.84, 2.83, 2.83, 2.83, 2.83,
                   2.82, 2.82, 2.82, 2.82, 2.81, 2.81, 2.81, 2.81, 2.81, 2.81,
                   2.81, 2.80, 2.80, 2.80, 2.80, 2.80, 2.80, 2.80, 2.80]
home_purple_x = [2.82, 2.82, 2.82, 2.83, 2.83, 2.83, 2.84, 2.84, 2.84, 2.84,
                 2.85, 2.85, 2.85, 2.85, 2.85, 2.85, 2.85, 2.85, 2.86, 2.86,
                 2.86, 2.86, 2.86, 2.86, 2.86, 2.86, 2.86, 2.86, 2.86, 2.86,
                 2.86, 2.86, 2.87, 2.87, 2.87, 2.87, 2.87, 2.87, 2.87]
home_green_dot = [3.01, 3.02, 3.00, 2.99, 2.98, 2.97, 2.96, 2.95, 2.94, 2.93,
                  2.92, 2.91, 2.90, 2.89, 2.88, 2.87, 2.87, 2.86, 2.85, 2.86,
                  2.86, 2.85, 2.85, 2.84, 2.84, 2.84, 2.84, 2.83, 2.83, 2.83,
                  2.82, 2.82, 2.81, 2.81, 2.80, 2.80, 2.79, 2.79, 2.79]
home_green_x = [3.09, 3.10, 3.07, 3.06, 3.04, 3.03, 3.01, 2.99, 2.97, 2.96,
                2.95, 2.93, 2.92, 2.91, 2.89, 2.88, 2.88, 2.87, 2.86, 2.87,
                2.87, 2.86, 2.86, 2.85, 2.85, 2.85, 2.85, 2.84, 2.84, 2.83,
                2.83, 2.81, 2.80, 2.80, 2.79, 2.78, 2.78, 2.77, 2.76]

# panel boxes in pixels: left, top, right, bottom
panels = [
    ("Bethel (AK)", (42, 27, 285, 246), bethel_years,
     [(RED, bethel_red_dot, bethel_red_x), (BLUE, bethel_blue_dot, bethel_blue_x),
      (ORANGE, bethel_orange_dot, bethel_orange_x), (PURPLE, bethel_purple_dot, bethel_purple_x),
      (GREEN, bethel_green_dot, bethel_green_x)],
     [1960, 1980, 2000, 2020], [2, 4, 6, 8], '%d', None),
    ("Colorado Springs (CO)", (345, 27, 589, 246), colo_years,
     [(RED, colo_red_dot, colo_red_x), (BLUE, colo_blue_dot, colo_blue_x),
      (ORANGE, colo_orange_dot, colo_orange_x), (PURPLE, colo_purple_dot, colo_purple_x),
      (GREEN, colo_green_dot, colo_green_x)],
     [1940, 1960, 1980, 2000, 2020], [2, 3, 4, 5, 6], '%d', None),
    ("Minneapolis (MN)", (651, 27, 894, 246), minn_years,
     [(RED, minn_red_dot, minn_red_x), (BLUE, minn_blue_dot, minn_blue_x),
      (ORANGE, minn_orange_dot, minn_orange_x), (PURPLE, minn_purple_dot, minn_purple_x),
      (GREEN, minn_green_dot, minn_green_x)],
     [1960, 1980, 2000, 2020], [3, 4, 5, 6, 7], '%d', None),
    ("Boston (MA)", (951, 27, 1198, 246), bos_years,
     [(RED, bos_red_dot, bos_red_x), (BLUE, bos_blue_dot, bos_blue_x),
      (ORANGE, bos_orange_dot, bos_orange_x), (PURPLE, bos_purple_dot, bos_purple_x),
      (GREEN, bos_green_dot, bos_green_x)],
     [1940, 1960, 1980, 2000, 2020], [2.0, 2.5, 3.0, 3.5, 4.0, 4.5, 5.0, 5.5], '%.1f', None),
    ("Hilo (HI)", (42, 325, 285, 544), hilo_years,
     [(RED, hilo_red_dot, hilo_red_x), (BLUE, hilo_blue_dot, hilo_blue_x),
      (ORANGE, hilo_orange_dot, hilo_orange_x), (PURPLE, hilo_purple_dot, hilo_purple_x),
      (GREEN, hilo_green_dot, hilo_green_x)],
     [1980, 1990, 2000, 2010, 2020], [0.6, 0.8, 1.0, 1.2, 1.4], '%.1f', None),
    ("San Diego (CA)", (346, 325, 588, 544), sd_years,
     [(RED, sd_red_dot, sd_red_x), (BLUE, sd_blue_dot, sd_blue_x),
      (ORANGE, sd_orange_dot, sd_orange_x), (PURPLE, sd_purple_dot, sd_purple_x),
      (GREEN, sd_green_dot, sd_green_x)],
     [1960, 1980, 2000, 2020], [1.0, 1.2, 1.4, 1.6, 1.8, 2.0, 2.2, 2.4], '%.1f', None),
    ("Blythe (CA)", (651, 325, 893, 544), bly_years,
     [(RED, bly_red_dot, bly_red_x), (BLUE, bly_blue_dot, bly_blue_x),
      (ORANGE, bly_orange_dot, bly_orange_x), (PURPLE, bly_purple_dot, bly_purple_x),
      (GREEN, bly_green_dot, bly_green_x)],
     [1940, 1960, 1980, 2000, 2020], [1.0, 1.5, 2.0, 2.5, 3.0, 3.5, 4.0], '%.1f',
     [(RED, bly_seg_red), (BLUE, bly_seg_blue), (ORANGE, bly_seg_orange),
      (PURPLE, bly_seg_purple), (GREEN, bly_seg_green)]),
    ("Homestead (FL)", (951, 325, 1198, 544), home_years,
     [(RED, home_red_dot, home_red_x), (BLUE, home_blue_dot, home_blue_x),
      (ORANGE, home_orange_dot, home_orange_x), (PURPLE, home_purple_dot, home_purple_x),
      (GREEN, home_green_dot, home_green_x)],
     [1940, 1960, 1980, 2000, 2020], [1.0, 1.5, 2.0, 2.5, 3.0], '%.1f', None),
]

fig = plt.figure(figsize=(W / 100, H / 100), dpi=100)

for title, box, years, series, xt, yt, yfmt, segs in panels:
    l, t, r, b = box
    ax = fig.add_axes([l / W, 1 - b / H, (r - l) / W, (b - t) / H])
    if segs:
        for col, vals in segs:
            ax.hlines(vals, bly_seg_start, bly_seg_end, colors=col, alpha=0.65, lw=1.3)
    for col, dots, xs in series:
        ax.plot(years, xs, ls='none', marker='x', ms=3.5, mew=0.9, color=col)
        ax.plot(years, dots, ls='none', marker='o', ms=2.6, mec='none', color=col)
    # R-style 4% padding around the data
    ax.margins(x=0.04, y=0.04)
    ax.autoscale_view()
    ax.set_xlim(ax.get_xlim())
    ax.set_ylim(ax.get_ylim())
    ax.xaxis.set_major_locator(FixedLocator(xt))
    ax.yaxis.set_major_locator(FixedLocator(yt))
    ax.yaxis.set_major_formatter(FormatStrFormatter(yfmt))
    ax.grid(True, color='#d3d3d3', linestyle=':', linewidth=0.8)
    ax.set_axisbelow(True)
    ax.tick_params(direction='out', length=4, width=0.9, labelsize=7.5, pad=2.5,
                   color='#333333', labelcolor='#222222')
    for lab in ax.get_yticklabels():
        lab.set_rotation(90)
        lab.set_va('center')
    for sp in ax.spines.values():
        sp.set_linewidth(1.2)
        sp.set_color('#333333')
    ax.set_title(title, fontsize=12, fontweight='bold', pad=7)
    ax.set_xlabel('Year', fontsize=7.5, labelpad=4, color='#222222')
    ax.set_ylabel('Temperature (°C)', fontsize=7.5, labelpad=7, color='#222222')

fig.savefig('out.png', dpi=100)
